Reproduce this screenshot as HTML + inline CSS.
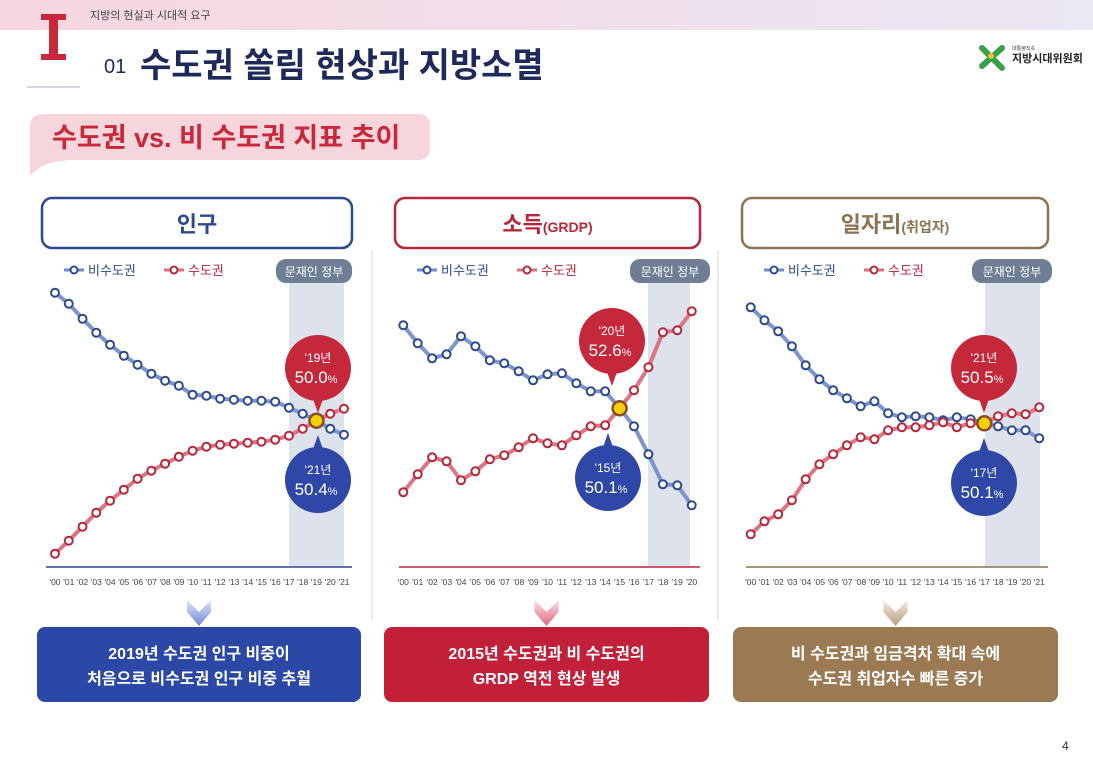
<!DOCTYPE html>
<html><head><meta charset="utf-8">
<style>
html,body{margin:0;padding:0;background:#fff;}
svg{display:block;font-family:"Liberation Sans","Noto Sans CJK KR",sans-serif;}
</style></head>
<body>
<svg id="page" width="1093" height="763" viewBox="0 0 1093 763" xmlns="http://www.w3.org/2000/svg">
<defs>
<linearGradient id="topg" x1="0" x2="1"><stop offset="0" stop-color="#f7d6df"/><stop offset="1" stop-color="#ebe7f5"/></linearGradient>
<linearGradient id="arB" x1="0" y1="0" x2="0" y2="1"><stop offset="0" stop-color="#dfe6fb"/><stop offset="1" stop-color="#6f86d8"/></linearGradient>
<linearGradient id="arR" x1="0" y1="0" x2="0" y2="1"><stop offset="0" stop-color="#fbe0e5"/><stop offset="1" stop-color="#e0697e"/></linearGradient>
<linearGradient id="arG" x1="0" y1="0" x2="0" y2="1"><stop offset="0" stop-color="#f3ece3"/><stop offset="1" stop-color="#b99d7c"/></linearGradient>
</defs>
<rect x="0" y="0" width="1093" height="30" fill="url(#topg)"/>
<text x="90" y="19" font-size="11" fill="#444">지방의 현실과 시대적 요구</text>
<g>
<rect x="41" y="14" width="25" height="6" fill="#c8283a"/>
<rect x="49" y="14" width="9" height="46" fill="#c8283a"/>
<rect x="41" y="54" width="25" height="6" fill="#c8283a"/>
</g>
<line x1="27" y1="87" x2="80" y2="87" stroke="#c5cbd6" stroke-width="1.5"/>
<text x="104" y="73" font-size="20" fill="#1e2a5a">01</text>
<text x="140" y="77" font-size="34" font-weight="bold" fill="#1e2a5a">수도권 쏠림 현상과 지방소멸</text>
<g>
<path d="M982 48 L1002 68 M1002 48 L982 66" stroke="#3aa04a" stroke-width="6" stroke-linecap="round"/>
<circle cx="991" cy="56" r="3" fill="#f0c030"/>
<text x="1012" y="50" font-size="5" fill="#333">대통령직속</text>
<text x="1012" y="62" font-size="11" font-weight="bold" fill="#222">지방시대위원회</text>
</g>
<g>
<path d="M44 114 H418 Q430 114 430 126 V148 Q430 160 418 160 H70 Q40 162 30 176 Q30 160 30 150 V126 Q30 114 44 114 Z" fill="#f6d5dc"/>
<text x="52" y="147" font-size="27" font-weight="bold" fill="#c8283a">수도권 vs. 비 수도권 지표 추이</text>
</g>
<line x1="372" y1="250" x2="372" y2="620" stroke="#e3e3e3" stroke-width="1.5"/>
<line x1="718" y1="250" x2="718" y2="620" stroke="#e3e3e3" stroke-width="1.5"/>
<g id="charts"></g>
<text x="1062" y="750" font-size="12" fill="#333">4</text>
</svg>
<script>
const years1 = ["'00","'01","'02","'03","'04","'05","'06","'07","'08","'09","'10","'11","'12","'13","'14","'15","'16","'17","'18","'19","'20","'21"];
const years2 = years1.slice(0,21);
const pop_non = [62.8,61.7,60.2,58.8,57.6,56.5,55.6,54.7,54.0,53.5,52.6,52.5,52.2,52.1,52.0,52.0,51.9,51.3,50.7,50.0,49.2,48.6];
const pop_cap = [36.7,38.0,39.4,40.8,42.0,43.1,44.2,45.0,45.7,46.4,47.0,47.4,47.6,47.7,47.8,47.9,48.1,48.5,49.2,50.0,50.7,51.2];
const inc_non = [58.3,56.5,55.0,55.4,57.2,56.2,54.8,54.5,53.7,52.8,53.4,53.5,52.5,51.7,51.7,50.0,48.2,45.4,42.4,42.3,40.3];
const inc_cap = [41.6,43.4,45.1,44.7,42.8,43.7,44.9,45.3,46.1,47.0,46.5,46.3,47.3,48.2,48.3,50.0,51.8,54.1,57.6,57.8,59.7];
const job_non = [61.6,60.3,59.2,57.7,55.8,54.4,53.3,52.5,51.7,52.2,51.0,50.6,50.7,50.6,50.3,50.6,50.4,50.0,49.7,49.3,49.3,48.5];
const job_cap = [38.9,40.2,40.9,42.3,44.4,45.9,46.9,47.8,48.6,48.4,49.3,49.6,49.6,49.8,50.1,49.6,50.0,50.0,50.7,51.0,50.9,51.6];

const NS="http://www.w3.org/2000/svg";
const root=document.getElementById('charts');
function el(tag,attrs,parent){const e=document.createElementNS(NS,tag);for(const k in attrs)e.setAttribute(k,attrs[k]);(parent||root).appendChild(e);return e;}
function txt(x,y,s,attrs,parent){const t=el('text',Object.assign({x:x,y:y},attrs),parent);t.textContent=s;return t;}

const charts=[
 {name:'population',x0:42,x1:352,col:'#2d4a8f',title:'인구',sub:'',years:years1,non:pop_non,cap:pop_cap,
  px0:55,px1:344,cy:420.7,shade:[289,344],pill:[276,352],cross:19,
  red:[318,368,"'19년","50.0"],blue:[318,480,"'21년","50.4"],
  box:[37,361,'#2b48a6'],lines:['2019년 수도권 인구 비중이','처음으로 비수도권 인구 비중 추월'],arrow:'url(#arB)'},
 {name:'income',x0:395,x1:700,col:'#b8263a',title:'소득',sub:'(GRDP)',years:years2,non:inc_non,cap:inc_cap,
  px0:403.3,px1:691.7,cy:408.3,shade:[648,690],pill:[630,710],cross:15,
  red:[612,341,"'20년","52.6"],blue:[608,478,"'15년","50.1"],
  box:[384,709,'#c21f38'],lines:['2015년 수도권과 비 수도권의','GRDP 역전 현상 발생'],arrow:'url(#arR)'},
 {name:'employment',x0:742,x1:1048,col:'#8c7352',title:'일자리',sub:'(취업자)',years:years1,non:job_non,cap:job_cap,
  px0:750.7,px1:1039.3,cy:423.3,shade:[985,1040],pill:[972,1052],cross:17,
  red:[984,368,"'21년","50.5"],blue:[984,483,"'17년","50.1"],
  box:[733,1058,'#9a7953'],lines:['비 수도권과 임금격차 확대 속에','수도권 취업자수 빠른 증가'],arrow:'url(#arG)'}
];

charts.forEach(c=>{
 const g=el('g',{});
 
 
 el('rect',{x:c.x0,y:198,width:c.x1-c.x0,height:50,rx:10,fill:'#fff',stroke:c.col,'stroke-width':2.5},g);
 const tt=txt((c.x0+c.x1)/2,232,'',{'font-size':22,'font-weight':'bold',fill:c.col,'text-anchor':'middle'},g);
 
 
 const s1=document.createElementNS(NS,'tspan');s1.textContent=c.title;tt.appendChild(s1);
 if(c.sub){const s2=document.createElementNS(NS,'tspan');s2.setAttribute('font-size','14');s2.textContent=c.sub;tt.appendChild(s2);}
 const lx=c.x0+22;
 el('line',{x1:lx,y1:270,x2:lx+20,y2:270,stroke:'#6f8acb','stroke-width':3},g);
 el('circle',{cx:lx+10,cy:270,r:3.5,fill:'#fff',stroke:'#2d4a8f','stroke-width':2},g);
 const l1=txt(lx+24,275,'비수도권',{'font-size':13,fill:'#2d4a8f'},g);
 
 
 el('line',{x1:lx+100,y1:270,x2:lx+120,y2:270,stroke:'#d8707f','stroke-width':3},g);
 el('circle',{cx:lx+110,cy:270,r:3.5,fill:'#fff',stroke:'#b8263a','stroke-width':2},g);
 const l2=txt(lx+124,275,'수도권',{'font-size':13,fill:'#b8263a'},g);
 
 
 el('rect',{x:c.shade[0],y:283,width:c.shade[1]-c.shade[0],height:284,fill:'#dde2ec'},g);
 el('rect',{x:c.pill[0],y:259,width:c.pill[1]-c.pill[0],height:24,rx:10,fill:'#6e7f95'},g);
 txt((c.pill[0]+c.pill[1])/2,276,'문재인 정부',{'font-size':12,fill:'#fff','text-anchor':'middle'},g);
 el('line',{x1:c.x0+4,y1:567,x2:c.x1,y2:567,stroke:c.col,'stroke-width':1.5},g);
 const n=c.years.length;
 const xs=i=>c.px0+(c.px1-c.px0)*i/(n-1);
 const ys=v=>c.cy-(v-50)*10;
 c.years.forEach((yv,i)=>{txt(xs(i),585,yv,{'font-size':8.5,fill:'#444','text-anchor':'middle'},g);});
 [[c.non,'#7d95cc','#2d4a8f','non-capital'],[c.cap,'#dc7584','#b8263a','capital']].forEach(s=>{
  const pts=s[0].map((v,i)=>xs(i).toFixed(1)+','+ys(v).toFixed(1)).join(' ');
  const pl=el('polyline',{points:pts,fill:'none',stroke:s[1],'stroke-width':4,'stroke-linejoin':'round'},g);
  
  
  s[0].forEach((v,i)=>{
   const p=el('circle',{cx:xs(i),cy:ys(v),r:4,fill:'#fff',stroke:s[2],'stroke-width':2},g);
   
   
  });
 });
 const cxp=xs(c.cross), cyp=ys(c.cap[c.cross]);
 el('circle',{cx:cxp,cy:cyp,r:7,fill:'#f5d000',stroke:'#8a4a2a','stroke-width':2.5},g);
 [[c.red,'#c4283a',1],[c.blue,'#2f48a8',-1]].forEach(b=>{
  const [bx,by,yr,val]=b[0];
  const cg=el('g',{},g);
  
  
  el('path',{d:`M${bx-6} ${by+b[2]*28} L${bx} ${by+b[2]*45} L${bx+6} ${by+b[2]*28} Z`,fill:b[1]},cg);
  el('circle',{cx:bx,cy:by,r:33,fill:b[1]},cg);
  txt(bx,by-6,yr,{'font-size':12,fill:'#fff','text-anchor':'middle'},cg);
  const vt=txt(bx-2,by+15,'',{'font-size':17,fill:'#fff','text-anchor':'middle'},cg);
  const a=document.createElementNS(NS,'tspan');a.textContent=val;vt.appendChild(a);
  const p=document.createElementNS(NS,'tspan');p.setAttribute('font-size','11');p.textContent='%';vt.appendChild(p);
 });
 const ax=(c.box[0]+c.box[1])/2;
 el('path',{d:`M${ax-12} 600 L${ax} 612 L${ax+12} 600 L${ax+12} 612 L${ax} 626 L${ax-12} 612 Z`,fill:c.arrow},g);
 const bb=el('rect',{x:c.box[0],y:627,width:c.box[1]-c.box[0],height:75,rx:8,fill:c.box[2]},g);
 
 
 txt(ax,659,c.lines[0],{'font-size':16,fill:'#fff','text-anchor':'middle','font-weight':'bold'},g);
 txt(ax,684,c.lines[1],{'font-size':16,fill:'#fff','text-anchor':'middle','font-weight':'bold'},g);
});
</script>
</body></html>
